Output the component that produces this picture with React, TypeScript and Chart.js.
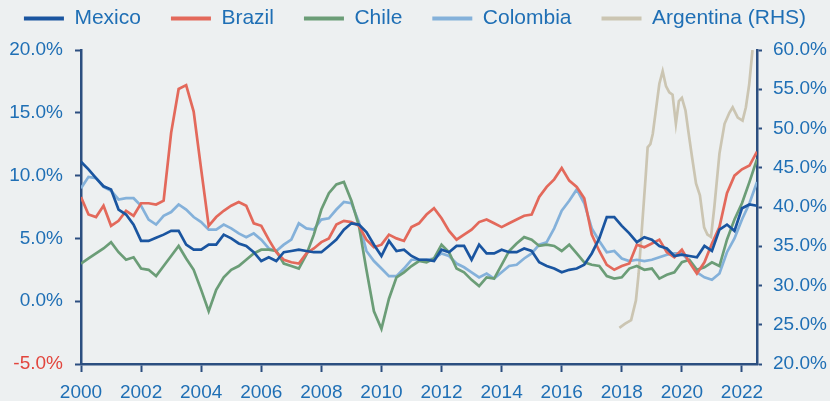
import React, { useEffect, useRef } from 'react';
import { Chart, registerables } from 'chart.js';

Chart.register(...registerables);

// Quarterly observations starting 2000 Q1 (year fraction step 0.25)
const START_YEAR = 2000;
const STEP = 0.25;

const mexico = [
  11.1, 10.5, 9.8, 9.15,
  8.9, 7.3, 6.9, 6.1,
  4.8, 4.8, 5.05, 5.3,
  5.6, 5.6, 4.5, 4.1,
  4.1, 4.5, 4.5, 5.3,
  5.0, 4.6, 4.4, 3.9,
  3.2, 3.5, 3.2, 3.9,
  4.0, 4.1, 4.0, 3.9,
  3.9, 4.4, 4.9, 5.7,
  6.2, 6.1, 5.5, 4.5,
  3.6, 4.8, 4.0, 4.1,
  3.6, 3.3, 3.3, 3.2,
  4.1, 3.9, 4.4, 4.4,
  3.3, 4.5, 3.8, 3.8,
  4.1, 3.9, 3.9, 4.2,
  4.0, 3.1, 2.8, 2.6,
  2.3, 2.5, 2.6, 2.9,
  3.8, 5.0, 6.7, 6.7,
  6.0, 5.4, 4.7, 5.1,
  4.9, 4.4, 4.2, 3.6,
  3.7, 3.6, 3.5, 4.4,
  4.0, 5.7, 6.1, 5.6,
  7.4, 7.7, 7.6,
];

const brazil = [
  8.3, 6.9, 6.7, 7.6,
  6.0, 6.4, 7.2, 6.8,
  7.8, 7.8, 7.7, 8.0,
  13.4, 16.9, 17.2, 15.1,
  10.5, 6.0, 6.7, 7.2,
  7.6, 7.9, 7.6, 6.2,
  6.0, 4.9, 3.9, 3.3,
  3.1, 3.0, 3.8, 4.2,
  4.7, 5.0, 6.1, 6.4,
  6.3, 6.0, 4.9, 4.3,
  4.5, 5.3, 5.0, 4.8,
  5.9, 6.2, 6.9, 7.4,
  6.6, 5.6, 4.9, 5.3,
  5.7, 6.3, 6.5, 6.2,
  5.9, 6.2, 6.5, 6.8,
  6.9, 8.3, 9.1, 9.7,
  10.6, 9.6, 9.1, 8.2,
  5.3, 4.0, 2.9, 2.5,
  2.8, 3.0, 4.5, 4.3,
  4.6, 4.9, 3.9, 3.5,
  4.1, 3.1, 2.2, 3.1,
  4.6, 5.9, 8.6, 10.0,
  10.5, 10.8, 11.9,
];

const chile = [
  3.0, 3.4, 3.8, 4.2,
  4.7, 3.9, 3.3, 3.5,
  2.6, 2.5, 2.0, 2.8,
  3.6, 4.4, 3.4, 2.5,
  0.9, -0.8, 0.9, 1.9,
  2.5, 2.8, 3.3, 3.8,
  4.1, 4.1, 4.0, 3.0,
  2.8, 2.6, 3.7, 5.3,
  7.3, 8.6, 9.3, 9.5,
  8.0, 6.0, 2.5, -0.8,
  -2.2, 0.2, 1.9, 2.3,
  2.8, 3.2, 3.1, 3.4,
  4.5, 3.9, 2.6, 2.3,
  1.7, 1.2, 1.9, 1.8,
  2.9, 4.0, 4.6, 5.1,
  4.9, 4.4, 4.5, 4.4,
  4.0, 4.5, 3.8, 3.1,
  2.9, 2.8, 2.0, 1.8,
  1.9, 2.6, 2.8, 2.5,
  2.6, 1.8, 2.1, 2.3,
  3.1, 3.3, 2.5, 2.7,
  3.1, 2.8, 4.9, 6.5,
  7.8, 9.5, 11.3,
];

const colombia = [
  9.0, 9.9, 9.8, 9.1,
  8.8, 8.1, 8.2, 8.2,
  7.6, 6.5, 6.1, 6.8,
  7.1, 7.7, 7.3, 6.7,
  6.3, 5.7, 5.7, 6.1,
  5.8, 5.4, 5.1, 5.4,
  4.9, 4.2, 4.0, 4.5,
  4.9, 6.2, 5.8, 5.7,
  6.5, 6.6, 7.3, 7.9,
  7.8, 6.3, 4.0, 3.2,
  2.6, 2.0, 2.0, 2.6,
  3.3, 3.3, 3.3, 3.4,
  3.8, 3.6, 3.0, 2.7,
  2.3, 1.9, 2.2, 1.8,
  2.3, 2.8, 2.9, 3.4,
  3.8, 4.5, 4.7, 5.8,
  7.2, 8.0, 8.9, 7.8,
  5.8, 4.8, 3.9, 4.0,
  3.4, 3.2, 3.3, 3.2,
  3.3, 3.5, 3.7, 3.8,
  3.8, 3.2, 2.3, 1.9,
  1.7, 2.2, 3.9, 5.0,
  6.5, 7.8, 9.5,
];

// Argentina (right-hand scale), irregular observation dates
const argentinaYears = [
  2017.92, 2018.1, 2018.31, 2018.47, 2018.56, 2018.64, 2018.8, 2018.86, 2018.95,
  2019.03, 2019.14, 2019.25, 2019.36, 2019.47, 2019.58, 2019.69, 2019.8, 2019.9,
  2020.0, 2020.12, 2020.22, 2020.34, 2020.47, 2020.6, 2020.74, 2020.85, 2020.97,
  2021.08, 2021.25, 2021.42, 2021.58, 2021.69, 2021.86, 2022.02, 2022.13, 2022.24, 2022.35,
];
const argentina = [
  24.6, 25.1, 25.6, 28.1, 31.5, 35.7, 44.2, 47.6, 48.0,
  49.3, 52.5, 55.7, 57.3, 55.4, 54.6, 54.3, 50.6, 53.5,
  53.9, 52.3, 49.5, 46.3, 43.0, 41.5, 37.4, 36.5, 36.2,
  40.0, 46.8, 50.6, 52.0, 52.7, 51.4, 51.0, 52.7, 55.6, 60.0,
];

const xTickYears = [2000, 2002, 2004, 2006, 2008, 2010, 2012, 2014, 2016, 2018, 2020, 2022];
const seriesNames = ['Mexico', 'Brazil', 'Chile', 'Colombia', 'Argentina (RHS)'];
const seriesColors = ['#1a55a0', '#e3695b', '#6b9d77', '#84b1da', '#cbc5b2'];

const TEXT_BLUE = '#1f6fb5';
const NEG_RED = '#e2453d';
const AXIS_NAVY = '#2c4f80';
const BG = '#edf0f1';
const FONT = "'Liberation Sans', Arial, sans-serif";

const quarterYears = mexico.map((_, i) => START_YEAR + i * STEP);
const toPoints = (xs: number[], ys: number[]) => ys.map((y, i) => ({ x: xs[i], y }));

const pct = (v: any) => Number(v).toFixed(1) + '%';

export default function App() {
  const canvasRef = useRef<HTMLCanvasElement | null>(null);

  useEffect(() => {
    if (!canvasRef.current) return;
    const legendSpacing = {
      id: 'legendSpacing',
      beforeInit(chart: any) {
        const legend = chart.legend;
        if (!legend) return;
        const orig = legend.fit;
        legend.fit = function () {
          orig.call(this);
          this.height = 72;
        };
      },
    };

    const mainSeries = [mexico, brazil, chile, colombia];
    const datasets: any[] = mainSeries.map((vals, i) => ({
      label: seriesNames[i],
      data: toPoints(quarterYears, vals),
      borderColor: seriesColors[i],
      backgroundColor: seriesColors[i],
      borderWidth: 2.7,
      pointRadius: 0,
      tension: 0,
      yAxisID: 'y',
    }));
    datasets.push({
      label: seriesNames[4],
      data: toPoints(argentinaYears, argentina),
      borderColor: seriesColors[4],
      backgroundColor: seriesColors[4],
      borderWidth: 2.7,
      pointRadius: 0,
      tension: 0,
      yAxisID: 'y1',
    });

    const chart = new Chart(canvasRef.current, {
      type: 'line',
      data: { datasets },
      plugins: [legendSpacing],
      options: {
        animation: false,
        responsive: false,
        devicePixelRatio: 1,
        layout: { padding: { top: -22, left: -12, right: -12, bottom: 0 } },
        plugins: {
          tooltip: { enabled: false },
          legend: {
            position: 'top',
            labels: {
              boxWidth: 40,
              boxHeight: 4,
              padding: 30,
              color: TEXT_BLUE,
              font: { family: FONT, size: 21 },
              generateLabels: (c: any) =>
                (Chart.defaults.plugins.legend.labels as any).generateLabels(c).map((l: any) => ({ ...l, lineWidth: 0 })),
            },
          },
        },
        scales: {
          x: {
            type: 'linear',
            min: 2000,
            max: 2022.5,
            afterBuildTicks: (scale: any) => {
              scale.ticks = xTickYears.map((v) => ({ value: v }));
            },
            afterFit: (scale: any) => {
              scale.height = 37;
            },
            ticks: {
              color: TEXT_BLUE,
              font: { family: FONT, size: 19 },
              padding: 9,
              maxRotation: 0,
              autoSkip: false,
              callback: (v: any) => String(v),
            },
            grid: { drawOnChartArea: false, color: AXIS_NAVY, tickLength: 8, tickWidth: 2 },
            border: { color: AXIS_NAVY, width: 2.5 },
          },
          y: {
            position: 'left',
            min: -5,
            max: 20,
            afterFit: (scale: any) => {
              scale.width = 93;
            },
            ticks: {
              stepSize: 5,
              color: (ctx: any) => (ctx.tick && ctx.tick.value < 0 ? NEG_RED : TEXT_BLUE),
              font: { family: FONT, size: 19 },
              padding: 12,
              callback: pct,
            },
            grid: { drawOnChartArea: false, color: AXIS_NAVY, tickLength: 6, tickWidth: 2 },
            border: { color: AXIS_NAVY, width: 2.5 },
          },
          y1: {
            position: 'right',
            min: 20,
            max: 60,
            afterFit: (scale: any) => {
              scale.width = 85;
            },
            ticks: {
              stepSize: 5,
              color: TEXT_BLUE,
              font: { family: FONT, size: 19 },
              padding: 11,
              callback: pct,
            },
            grid: { drawOnChartArea: false, color: AXIS_NAVY, tickLength: 5, tickWidth: 2 },
            border: { color: AXIS_NAVY, width: 2.5 },
          },
        },
      } as any,
    });

    return () => chart.destroy();
  }, []);

  return (
    <div style={{ position: 'fixed', left: 0, top: 0, width: 830, height: 401, background: BG }}>
      <canvas ref={canvasRef} width={830} height={401} style={{ display: 'block' }} />
    </div>
  );
}
